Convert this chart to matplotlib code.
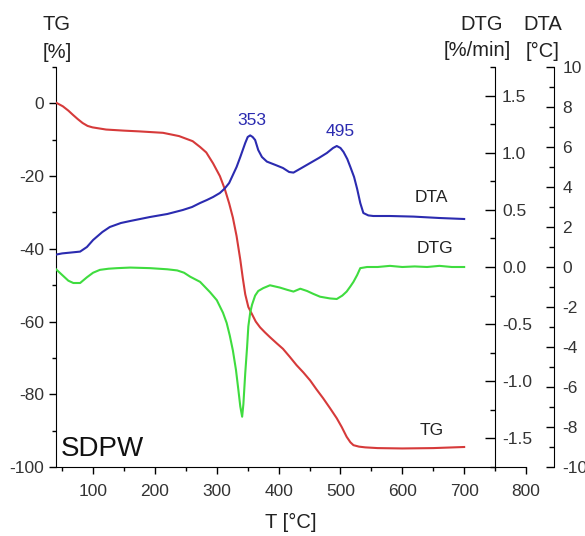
import matplotlib
matplotlib.use('Agg')
import matplotlib.pyplot as plt
from matplotlib.ticker import MultipleLocator, FormatStrFormatter

plt.rcParams['font.family'] = ['Liberation Sans', 'DejaVu Sans']
plt.rcParams['axes.unicode_minus'] = False

# TG curve [%]
tg_T = [40, 51, 60, 67, 75, 83, 91, 99, 121, 150, 174, 213, 239, 261, 273, 283, 294, 305,
        313, 320, 326, 332, 338, 342, 346, 351, 357, 363, 370, 378, 386, 397, 407, 418, 429,
        440, 451, 461, 472, 483, 494, 502, 510, 516, 521, 530, 540, 560, 600, 650, 700]
tg_val = [0.2, -0.8, -2.0, -3.1, -4.3, -5.4, -6.2, -6.6, -7.2, -7.5, -7.7, -8.1, -9.0, -10.4,
          -12.0, -13.5, -16.5, -20, -23.6, -27.5, -31.4, -36.5, -43, -48, -52.5, -56, -58,
          -60, -61.6, -63, -64.3, -66, -67.5, -69.7, -72, -74, -76.2, -78.6, -81.1, -83.8,
          -86.6, -89, -91.7, -93.2, -94, -94.4, -94.6, -94.8, -94.9, -94.8, -94.5]

# DTG curve [%/min]
dtg_T = [40, 50, 60, 68, 79, 90, 100, 111, 125, 139, 160, 192, 220, 236, 247, 257, 273, 289,
         300, 310, 316, 321, 326, 331, 335, 338, 341, 343, 346, 349, 351, 354, 357, 362, 367,
         375, 386, 394, 402, 414, 424, 435, 446, 456, 467, 483, 494, 503, 510, 516, 521, 527,
         532, 543, 560, 580, 600, 620, 640, 660, 680, 700]
dtg_val = [-0.02, -0.07, -0.12, -0.14, -0.14, -0.09, -0.05, -0.025, -0.015, -0.01, -0.005,
           -0.01, -0.02, -0.03, -0.05, -0.085, -0.13, -0.22, -0.29, -0.4, -0.49, -0.6, -0.73,
           -0.9, -1.08, -1.22, -1.31, -1.2, -0.93, -0.7, -0.52, -0.4, -0.33, -0.25, -0.21,
           -0.185, -0.16, -0.17, -0.18, -0.2, -0.215, -0.19, -0.21, -0.235, -0.26, -0.275,
           -0.28, -0.25, -0.215, -0.17, -0.13, -0.07, -0.01, 0.0, 0.0, 0.01, 0.0, 0.005, 0.0,
           0.01, 0.0, 0.0]

# DTA curve [°C]
dta_T = [40, 50, 63, 79, 90, 100, 115, 127, 145, 160, 192, 220, 245, 260, 273, 284, 294, 305,
         313, 320, 326, 332, 338, 346, 350, 354, 358, 362, 367, 373, 381, 395, 407, 417, 424,
         437, 451, 465, 478, 488, 494, 500, 505, 511, 516, 522, 527, 532, 537, 545, 553, 580,
         618, 660, 700]
dta_val = [0.62, 0.68, 0.72, 0.77, 1.0, 1.35, 1.75, 2.0, 2.2, 2.3, 2.5, 2.65, 2.85, 3.0, 3.2,
           3.35, 3.5, 3.7, 3.93, 4.2, 4.6, 5.0, 5.5, 6.2, 6.5, 6.58, 6.5, 6.35, 5.85, 5.5, 5.27,
           5.1, 4.95, 4.75, 4.72, 4.95, 5.2, 5.45, 5.7, 5.95, 6.05, 5.95, 5.75, 5.4, 5.0, 4.5,
           3.9, 3.2, 2.7, 2.58, 2.55, 2.55, 2.52, 2.45, 2.4]

peaks = [(353, '353'), (495, '495')]

W, H = 585, 536
fig = plt.figure(figsize=(W / 100, H / 100), dpi=100)
ax = fig.add_axes([56 / W, 1 - 467 / H, 470 / W, 400 / H])

red = '#d63a3a'
green = '#3fdc3f'
blue = '#2b2bb0'
txt = '#222222'

# TG on the left axis
ax.plot(tg_T, tg_val, color=red, lw=1.5, zorder=3)
ax.set_xlim(40, 800)
ax.set_ylim(-100, 10)
ax.xaxis.set_major_locator(MultipleLocator(100))
ax.xaxis.set_minor_locator(MultipleLocator(50))
ax.set_yticks(range(-100, 1, 20))
ax.yaxis.set_minor_locator(MultipleLocator(10))
ax.spines['top'].set_visible(False)
ax.spines['right'].set_visible(False)
ax.tick_params(which='major', length=5, width=1, labelsize=12.5, labelcolor='#333333')
ax.tick_params(which='minor', length=3, width=1)
ax.tick_params(axis='x', pad=7)
ax.set_xlabel('T [°C]', fontsize=14.5, color=txt, labelpad=10)

# DTG axis (spine at T = 750)
ax2 = ax.twinx()
ax2.plot(dtg_T, dtg_val, color=green, lw=1.5, zorder=2)
ax2.set_ylim(-1.75, 1.75)
ax2.set_yticks([-1.5, -1.0, -0.5, 0.0, 0.5, 1.0, 1.5])
ax2.yaxis.set_minor_locator(MultipleLocator(0.25))
ax2.yaxis.set_major_formatter(FormatStrFormatter('%.1f'))
for s in ['left', 'top', 'bottom']:
    ax2.spines[s].set_visible(False)
ax2.spines['right'].set_position(('data', 750))
ax2.tick_params(axis='y', which='major', direction='in', length=7, width=1, pad=5,
                labelsize=12.5, labelcolor='#333333')
ax2.tick_params(axis='y', which='minor', direction='in', length=3.5, width=1)

# DTA axis (outside the plot)
ax3 = ax.twinx()
ax3.plot(dta_T, dta_val, color=blue, lw=1.5, zorder=2)
ax3.set_ylim(-10, 10)
ax3.yaxis.set_major_locator(MultipleLocator(2))
ax3.yaxis.set_minor_locator(MultipleLocator(1))
for s in ['left', 'top', 'bottom']:
    ax3.spines[s].set_visible(False)
ax3.spines['right'].set_position(('axes', 1 + 28 / 470))
ax3.tick_params(axis='y', which='major', direction='in', length=6, width=1, pad=6,
                labelsize=12.5, labelcolor='#333333')
ax3.tick_params(axis='y', which='minor', direction='in', length=3.5, width=1)

# peak labels
for T, lab in peaks:
    i = min(range(len(dta_T)), key=lambda k: abs(dta_T[k] - T))
    ax3.annotate(lab, (T, dta_val[i]), xytext=(2, 5), textcoords='offset points',
                 ha='center', va='bottom', color=blue, fontsize=12.5)

# curve names
ax.text(647, -26, 'DTA', ha='center', va='center', fontsize=12.5, color=txt)
ax.text(653, -40, 'DTG', ha='center', va='center', fontsize=12.5, color=txt)
ax.text(648, -90, 'TG', ha='center', va='center', fontsize=12.5, color=txt)
ax.text(47, -97, 'SDPW', ha='left', va='baseline', fontsize=20, color='#111111')

# axis titles above the spines
fig.text(56 / W, 1 - 24 / H, 'TG', ha='center', va='center', fontsize=14.5, color=txt)
fig.text(57 / W, 1 - 53 / H, '[%]', ha='center', va='center', fontsize=14.5, color=txt)
fig.text(482 / W, 1 - 24 / H, 'DTG', ha='center', va='center', fontsize=14.5, color=txt)
fig.text(477 / W, 1 - 51 / H, '[%/min]', ha='center', va='center', fontsize=14.5, color=txt)
fig.text(543 / W, 1 - 24 / H, 'DTA', ha='center', va='center', fontsize=14.5, color=txt)
fig.text(543 / W, 1 - 51 / H, '[°C]', ha='center', va='center', fontsize=14.5, color=txt)

fig.savefig('out.png', dpi=100)
